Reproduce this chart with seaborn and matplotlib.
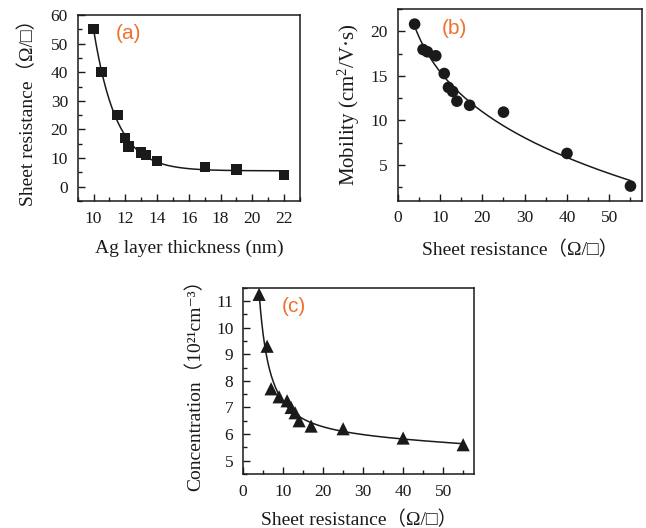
import numpy as np
import pandas as pd
import matplotlib
matplotlib.use("Agg")
import matplotlib.pyplot as plt
from matplotlib.ticker import MultipleLocator
import seaborn as sns

# --- data -------------------------------------------------------------
# (a) sheet resistance vs. Ag layer thickness
thickness_nm = [10, 10.5, 11.5, 12, 12.2, 13, 13.3, 14, 17, 19, 22]
sheet_res_a = [55, 40, 25, 17, 14, 12, 11, 9, 7, 6, 4]

# (b), (c) mobility and carrier concentration vs. sheet resistance
sheet_res = [4, 6, 7, 9, 11, 12, 13, 14, 17, 25, 40, 55]
mobility = [20.8, 17.95, 17.7, 17.25, 15.26, 13.7, 13.25, 12.16, 11.7, 10.93, 6.3, 2.64]
concentration = [11.25, 9.3, 7.7, 7.4, 7.25, 7.0, 6.8, 6.5, 6.3, 6.2, 5.85, 5.6]

panel_tags = ["(a)", "(b)", "(c)"]

# --- style ------------------------------------------------------------
sns.set_theme(style="ticks")
plt.rcParams["font.family"] = ["Liberation Serif", "Noto Sans CJK SC", "DejaVu Sans"]
plt.rcParams["mathtext.fontset"] = "custom"
plt.rcParams["mathtext.rm"] = "Liberation Serif"
plt.rcParams["mathtext.it"] = "Liberation Serif:italic"
plt.rcParams["axes.linewidth"] = 1.1
plt.rcParams["axes.edgecolor"] = "#1a1a1a"
plt.rcParams["xtick.direction"] = "in"
plt.rcParams["ytick.direction"] = "in"

TAG_COLOR = "#f0702e"
INK = "#1a1a1a"
LABEL_FS = 14
TICK_FS = 12.5


def fit_exp(x, y):
    """y = c + b*exp(-(x - x0)/t), best t by grid, b and c by least squares."""
    x = np.asarray(x, float)
    y = np.asarray(y, float)
    best = None
    for t in np.linspace(0.3, 6, 600):
        A = np.column_stack([np.ones_like(x), np.exp(-(x - x.min()) / t)])
        coef, *_ = np.linalg.lstsq(A, y, rcond=None)
        err = np.sum((A @ coef - y) ** 2)
        if best is None or err < best[0]:
            best = (err, t, coef)
    _, t, coef = best
    return lambda xx: coef[0] + coef[1] * np.exp(-(xx - x.min()) / t)


def fit_power(x, y, powers, linear_term=False):
    """y = c + b*x**p (+ d*x), best p by grid, the rest by least squares."""
    x = np.asarray(x, float)
    y = np.asarray(y, float)

    def design(xx, p):
        cols = [np.ones_like(xx), xx ** p]
        if linear_term:
            cols.append(xx)
        return np.column_stack(cols)

    best = None
    for p in powers:
        if abs(p) < 1e-6:
            continue
        A = design(x, p)
        coef, *_ = np.linalg.lstsq(A, y, rcond=None)
        err = np.sum((A @ coef - y) ** 2)
        if best is None or err < best[0]:
            best = (err, p, coef)
    _, p, coef = best
    return lambda xx: design(np.asarray(xx, float), p) @ coef


def style_axes(ax):
    for side in ("top", "right", "left", "bottom"):
        ax.spines[side].set_visible(True)
        ax.spines[side].set_linewidth(1.1)
    ax.tick_params(which="both", direction="in", top=False, right=False,
                   labelsize=TICK_FS, colors=INK, width=1.0)
    ax.tick_params(which="major", length=5, pad=7)
    ax.tick_params(which="minor", length=3)
    ax.set_facecolor("white")


fig = plt.figure(figsize=(6.46, 5.28), dpi=100)
fig.patch.set_facecolor("white")

ax_a = fig.add_axes([0.1203, 0.6193, 0.3441, 0.3523])
ax_b = fig.add_axes([0.6156, 0.6199, 0.3787, 0.3631])
ax_c = fig.add_axes([0.3763, 0.1023, 0.3580, 0.3528])

# --- (a) --------------------------------------------------------------
df_a = pd.DataFrame({"t": thickness_nm, "r": sheet_res_a})
fa = fit_exp(thickness_nm, sheet_res_a)
xa = np.linspace(min(thickness_nm), max(thickness_nm), 300)
sns.lineplot(x=xa, y=fa(xa), ax=ax_a, color=INK, linewidth=1.1)
sns.scatterplot(data=df_a, x="t", y="r", ax=ax_a, marker="s", s=55,
                color=INK, edgecolor="none", zorder=3)
ax_a.set_xlim(9, 23)
ax_a.set_ylim(-5, 60)
ax_a.xaxis.set_minor_locator(MultipleLocator(1))
ax_a.yaxis.set_major_locator(MultipleLocator(10))
ax_a.yaxis.set_minor_locator(MultipleLocator(5))
ax_a.set_xticks([10, 12, 14, 16, 18, 20, 22])
ax_a.set_xlabel("Ag layer thickness (nm)", fontsize=LABEL_FS, color=INK, labelpad=9)
ax_a.set_ylabel("Sheet resistance（Ω/□）", fontsize=LABEL_FS, color=INK, labelpad=10)

# --- (b) --------------------------------------------------------------
df_b = pd.DataFrame({"r": sheet_res, "mu": mobility})
fb = fit_power(sheet_res, mobility, np.linspace(0.05, 1.5, 300))
xb = np.linspace(min(sheet_res), max(sheet_res), 300)
sns.lineplot(x=xb, y=fb(xb), ax=ax_b, color=INK, linewidth=1.1)
sns.scatterplot(data=df_b, x="r", y="mu", ax=ax_b, marker="o", s=70,
                color=INK, edgecolor="none", zorder=3)
ax_b.set_xlim(0, 57.8)
ax_b.set_ylim(1, 22.5)
ax_b.xaxis.set_major_locator(MultipleLocator(10))
ax_b.xaxis.set_minor_locator(MultipleLocator(5))
ax_b.yaxis.set_major_locator(MultipleLocator(5))
ax_b.yaxis.set_minor_locator(MultipleLocator(2.5))
ax_b.set_xlabel("Sheet resistance（Ω/□）", fontsize=LABEL_FS, color=INK, labelpad=10)
ax_b.set_ylabel("Mobility (cm$^{2}$/V·s)", fontsize=15, color=INK, labelpad=6)

# --- (c) --------------------------------------------------------------
df_c = pd.DataFrame({"r": sheet_res, "n": concentration})
fc = fit_power(sheet_res, concentration, np.linspace(-3, -0.05, 300), linear_term=True)
xc = np.linspace(min(sheet_res), max(sheet_res), 300)
sns.lineplot(x=xc, y=fc(xc), ax=ax_c, color=INK, linewidth=1.1)
sns.scatterplot(data=df_c, x="r", y="n", ax=ax_c, marker="^", s=90,
                color=INK, edgecolor="none", zorder=3)
ax_c.set_xlim(0, 57.8)
ax_c.set_ylim(4.5, 11.5)
ax_c.xaxis.set_major_locator(MultipleLocator(10))
ax_c.xaxis.set_minor_locator(MultipleLocator(5))
ax_c.yaxis.set_major_locator(MultipleLocator(1))
ax_c.yaxis.set_minor_locator(MultipleLocator(0.5))
ax_c.set_xlabel("Sheet resistance（Ω/□）", fontsize=LABEL_FS, color=INK, labelpad=8)
ax_c.set_ylabel("Concentration（10²¹cm⁻³）", fontsize=LABEL_FS, color=INK, labelpad=8)

for ax, tag, pos in zip((ax_a, ax_b, ax_c), panel_tags,
                        ((0.172, 0.90), (0.18, 0.90), (0.168, 0.898))):
    style_axes(ax)
    ax.text(pos[0], pos[1], tag, transform=ax.transAxes, fontsize=15,
            color=TAG_COLOR, family=["Liberation Sans"], va="center", ha="left")

fig.savefig("out.png", dpi=100, facecolor="white")
